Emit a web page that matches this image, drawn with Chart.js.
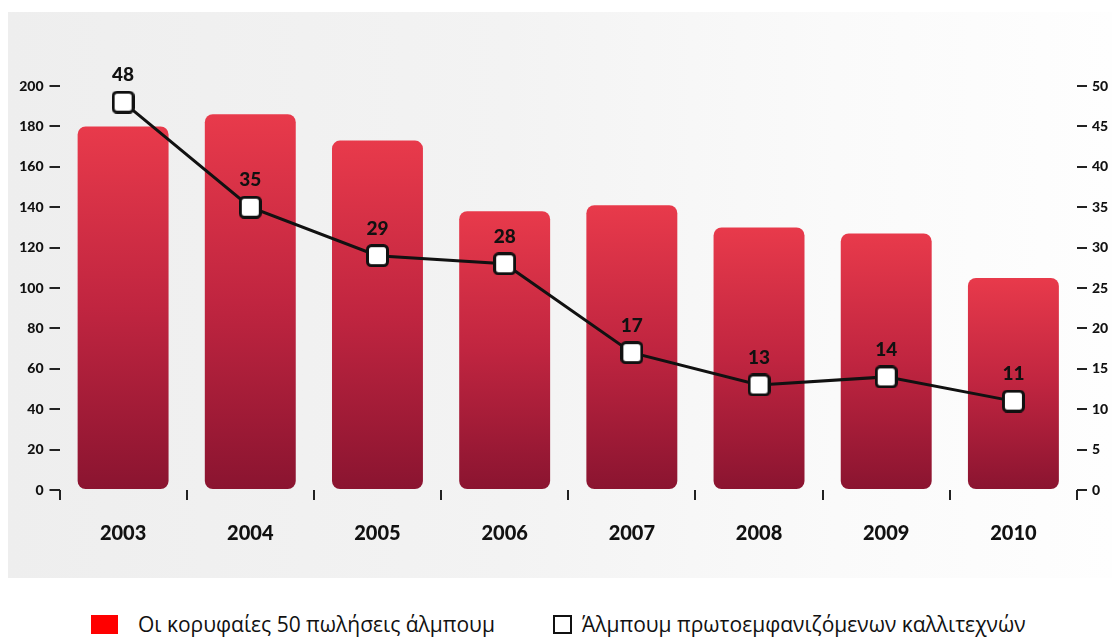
<!DOCTYPE html>
<html>
<head>
<meta charset="utf-8">
<script src="https://cdn.jsdelivr.net/npm/chart.js@4"></script>
<style>
    html, body { margin: 0; padding: 0; background: #fff; }
    #wrap { position: relative; width: 1112px; height: 637px; overflow: hidden; }
    #panel {
        position: absolute; left: 8px; top: 12px; width: 1104px; height: 566px;
        background: linear-gradient(to right, #eeeeee 0%, #f3f3f3 45%, #fafafa 75%, #fefefe 100%);
    }
    #box { position: absolute; left: 0; top: 0; width: 1112px; height: 590px; }
    .lg-box { position: absolute; top: 615px; height: 19px; box-sizing: border-box; }
    .lg-text {
        position: absolute; top: 612px; line-height: 24px;
        font-family: "Open Sans", sans-serif; font-size: 21px; color: #111; white-space: nowrap;
    }
</style>
</head>
<body>
<div id="wrap">
    <div id="panel"></div>
    <div id="box"><canvas id="chart" width="1112" height="590"></canvas></div>
    <div class="lg-box" style="left:91px;width:27px;background:#ff0000;"></div>
    <div class="lg-text" id="lg1" style="left:138px;"></div>
    <div class="lg-box" style="left:553px;width:19px;border:2px solid #111;background:#fff;"></div>
    <div class="lg-text" id="lg2" style="left:582px;"></div>
</div>
<script>
// δεδομένα
const years = ['2003', '2004', '2005', '2006', '2007', '2008', '2009', '2010'];
const topSales = [180, 186, 173, 138, 141, 130, 127, 105];
const newArtists = [48, 35, 29, 28, 17, 13, 14, 11];
const leftTicks = [0, 20, 40, 60, 80, 100, 120, 140, 160, 180, 200];
const rightTicks = [0, 5, 10, 15, 20, 25, 30, 35, 40, 45, 50];
const seriesNames = ['Οι κορυφαίες 50 πωλήσεις άλμπουμ', 'Άλμπουμ πρωτοεμφανιζόμενων καλλιτεχνών'];

document.getElementById('lg1').textContent = seriesNames[0];
document.getElementById('lg2').textContent = seriesNames[1];

// τετράγωνος δείκτης με στρογγυλές γωνίες
const marker = document.createElement('canvas');
marker.width = 23;
marker.height = 23;
(function() {
    const c = marker.getContext('2d');
    c.beginPath();
    c.roundRect(1.5, 1.5, 20, 20, 4);
    c.fillStyle = '#fff';
    c.fill();
    c.lineWidth = 3;
    c.strokeStyle = '#111';
    c.stroke();
})();

// διαβάθμιση για κάθε μπάρα
function barGradient(context) {
    const chart = context.chart;
    const area = chart.chartArea;
    if (!area || context.raw === undefined) return '#c02a40';
    const yTop = chart.scales.y.getPixelForValue(context.raw);
    const g = chart.ctx.createLinearGradient(0, yTop, 0, area.bottom);
    g.addColorStop(0, '#e83a4b');
    g.addColorStop(0.5, '#c02540');
    g.addColorStop(1, '#8a1430');
    return g;
}

// ετικέτες τιμών πάνω από τους δείκτες
const valueLabels = {
    id: 'valueLabels',
    afterDatasetsDraw(chart) {
        const ctx = chart.ctx;
        const meta = chart.getDatasetMeta(0);
        ctx.save();
        ctx.font = '900 19px Lato, sans-serif';
        ctx.fillStyle = '#111';
        ctx.textAlign = 'center';
        ctx.textBaseline = 'middle';
        meta.data.forEach((pt, i) => {
            ctx.fillText(String(newArtists[i]), pt.x, pt.y - 27);
        });
        ctx.restore();
    }
};

const tickFont = { family: 'Lato, sans-serif', size: 14, weight: '900' };

new Chart(document.getElementById('chart'), {
    data: {
        labels: years,
        datasets: [
            {
                type: 'line',
                label: seriesNames[1],
                data: newArtists,
                yAxisID: 'y2',
                borderColor: '#111',
                borderWidth: 3,
                pointStyle: marker,
                pointRadius: 11,
                pointHoverRadius: 11,
                tension: 0,
                order: 0
            },
            {
                type: 'bar',
                label: seriesNames[0],
                data: topSales,
                yAxisID: 'y',
                backgroundColor: barGradient,
                borderRadius: 8,
                borderSkipped: false,
                categoryPercentage: 1,
                barPercentage: 0.715,
                order: 1
            }
        ]
    },
    options: {
        responsive: false,
        animation: false,
        layout: { padding: { top: 86, left: 0, right: 0, bottom: 0 } },
        plugins: {
            legend: { display: false },
            tooltip: { enabled: false }
        },
        scales: {
            x: {
                offset: true,
                border: { display: false },
                grid: {
                    offset: true,
                    drawOnChartArea: false,
                    drawTicks: true,
                    tickLength: 10,
                    color: '#222',
                    lineWidth: 2
                },
                ticks: {
                    padding: 22,
                    color: '#111',
                    font: { family: 'Lato, sans-serif', size: 20, weight: '900' }
                },
                afterFit(s) { s.height = 100; }
            },
            y: {
                position: 'left',
                min: 0,
                max: 200,
                border: { display: false },
                grid: { drawOnChartArea: false, tickLength: 10, color: '#222', lineWidth: 2 },
                afterBuildTicks(s) { s.ticks = leftTicks.map(v => ({ value: v })); },
                ticks: { padding: 6, color: '#111', font: tickFont },
                afterFit(s) { s.width = 59.5; }
            },
            y2: {
                position: 'right',
                min: 0,
                max: 50,
                border: { display: false },
                grid: { drawOnChartArea: false, tickLength: 10, color: '#222', lineWidth: 2 },
                afterBuildTicks(s) { s.ticks = rightTicks.map(v => ({ value: v })); },
                ticks: { padding: 5, color: '#111', font: tickFont },
                afterFit(s) { s.width = 35; }
            }
        }
    },
    plugins: [valueLabels]
});
</script>
</body>
</html>
